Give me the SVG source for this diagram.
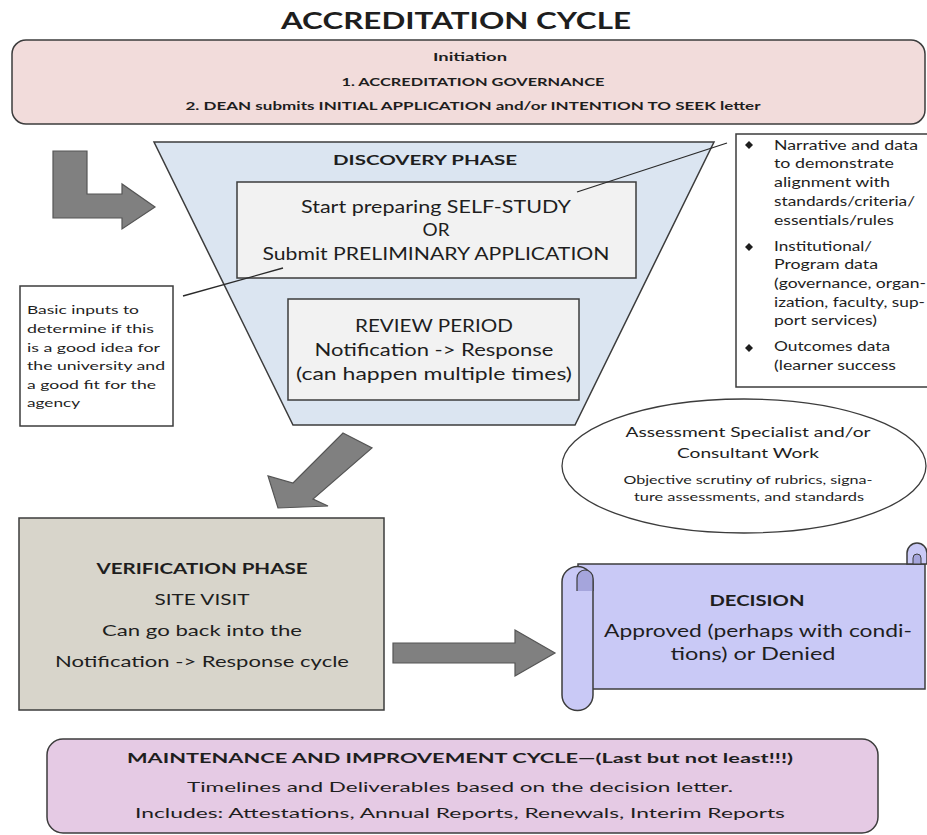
<svg xmlns="http://www.w3.org/2000/svg" width="927" height="835" viewBox="0 0 927 835">
<style>
text{font-family:Lato,"Open Sans","Liberation Sans",sans-serif;fill:#1e1e1e}
.b{font-weight:bold}
.c{text-anchor:middle}
.box{stroke:#3c3c3c;stroke-width:1.5}
.arrow{fill:#808080;stroke:#555;stroke-width:1.2}
.line{stroke:#2a2a2a;stroke-width:1.3;fill:none}
</style>
<rect width="927" height="835" fill="#fff"/>
<g id="title">
<text class="b c" x="456" y="29" font-size="23" textLength="350" lengthAdjust="spacingAndGlyphs">ACCREDITATION CYCLE</text>
</g>
<g id="initiation">
<rect class="box" x="12" y="40" width="913" height="84" rx="14" fill="#f2dcdb"/>
<text class="b c" x="470" y="61" font-size="11" textLength="74" lengthAdjust="spacingAndGlyphs">Initiation</text>
<text class="b c" x="473" y="86" font-size="11" textLength="263" lengthAdjust="spacingAndGlyphs">1. ACCREDITATION GOVERNANCE</text>
<text class="b c" x="473" y="110" font-size="11" textLength="575" lengthAdjust="spacingAndGlyphs">2. DEAN submits INITIAL APPLICATION and/or INTENTION TO SEEK letter</text>
</g>
<g id="discovery">
<polygon class="box" points="154,142 714,142 575,425 293,425" fill="#dbe5f1"/>
<text class="b c" x="425" y="165" font-size="14" textLength="184" lengthAdjust="spacingAndGlyphs">DISCOVERY PHASE</text>
</g>
<g id="selfstudy">
<rect class="box" x="237" y="182" width="399" height="96" fill="#f2f2f2"/>
<text class="c" x="436" y="213" font-size="16.5" textLength="270" lengthAdjust="spacingAndGlyphs">Start preparing SELF-STUDY</text>
<text class="c" x="436" y="236" font-size="16.5" textLength="27" lengthAdjust="spacingAndGlyphs">OR</text>
<text class="c" x="436" y="260" font-size="16.5" textLength="347" lengthAdjust="spacingAndGlyphs">Submit PRELIMINARY APPLICATION</text>
</g>
<g id="review">
<rect class="box" x="288" y="299" width="291" height="101" fill="#f2f2f2"/>
<text class="c" x="434" y="332" font-size="16.5" textLength="158" lengthAdjust="spacingAndGlyphs">REVIEW PERIOD</text>
<text class="c" x="434" y="356" font-size="16.5" textLength="239" lengthAdjust="spacingAndGlyphs">Notification -&gt; Response</text>
<text class="c" x="434" y="380" font-size="16.5" textLength="276" lengthAdjust="spacingAndGlyphs">(can happen multiple times)</text>
</g>
<g id="basic-inputs">
<rect class="box" x="20" y="286" width="153" height="140" fill="#fff"/>
<text x="27" y="314" font-size="12" textLength="112" lengthAdjust="spacingAndGlyphs">Basic inputs to</text>
<text x="27" y="333" font-size="12" textLength="127" lengthAdjust="spacingAndGlyphs">determine if this</text>
<text x="27" y="352" font-size="12" textLength="133" lengthAdjust="spacingAndGlyphs">is a good idea for</text>
<text x="27" y="370" font-size="12" textLength="138" lengthAdjust="spacingAndGlyphs">the university and</text>
<text x="27" y="389" font-size="12" textLength="129" lengthAdjust="spacingAndGlyphs">a good fit for the</text>
<text x="27" y="407" font-size="12" textLength="53" lengthAdjust="spacingAndGlyphs">agency</text>
</g>
<g id="narrative">
<rect class="box" x="736" y="134" width="200" height="253" fill="#fff"/>
<path d="M749,141 l4,4 -4,4 -4,-4z M749,243 l4,4 -4,4 -4,-4z M749,344 l4,4 -4,4 -4,-4z" fill="#1e1e1e"/>
<g font-size="12.5">
<text x="774" y="150" textLength="144" lengthAdjust="spacingAndGlyphs">Narrative and data</text>
<text x="774" y="168" textLength="120" lengthAdjust="spacingAndGlyphs">to demonstrate</text>
<text x="774" y="187" textLength="116" lengthAdjust="spacingAndGlyphs">alignment with</text>
<text x="774" y="206" textLength="141" lengthAdjust="spacingAndGlyphs">standards/criteria/</text>
<text x="774" y="225" textLength="120" lengthAdjust="spacingAndGlyphs">essentials/rules</text>
<text x="774" y="251" textLength="98" lengthAdjust="spacingAndGlyphs">Institutional/</text>
<text x="774" y="269" textLength="104" lengthAdjust="spacingAndGlyphs">Program data</text>
<text x="774" y="288" textLength="152" lengthAdjust="spacingAndGlyphs">(governance, organ-</text>
<text x="774" y="307" textLength="151" lengthAdjust="spacingAndGlyphs">ization, faculty, sup-</text>
<text x="774" y="325" textLength="103" lengthAdjust="spacingAndGlyphs">port services)</text>
<text x="774" y="351" textLength="116" lengthAdjust="spacingAndGlyphs">Outcomes data</text>
<text x="774" y="370" textLength="122" lengthAdjust="spacingAndGlyphs">(learner success</text>
</g>
</g>
<g id="assessment">
<ellipse cx="744" cy="466" rx="182" ry="67" fill="#fff" stroke="#3c3c3c" stroke-width="1.3"/>
<text class="c" x="748" y="437" font-size="13.5" textLength="245" lengthAdjust="spacingAndGlyphs">Assessment Specialist and/or</text>
<text class="c" x="748" y="458" font-size="13.5" textLength="142" lengthAdjust="spacingAndGlyphs">Consultant Work</text>
<text class="c" x="748" y="484" font-size="11" textLength="249" lengthAdjust="spacingAndGlyphs">Objective scrutiny of rubrics, signa-</text>
<text class="c" x="749" y="501" font-size="11" textLength="230" lengthAdjust="spacingAndGlyphs">ture assessments, and standards</text>
</g>
<g id="verification">
<rect class="box" x="19" y="518" width="365" height="192" fill="#d8d5cb"/>
<text class="b c" x="202" y="574" font-size="15.5" textLength="211" lengthAdjust="spacingAndGlyphs">VERIFICATION PHASE</text>
<text class="c" x="202" y="605" font-size="15" textLength="95" lengthAdjust="spacingAndGlyphs">SITE VISIT</text>
<text class="c" x="202" y="636" font-size="15" textLength="200" lengthAdjust="spacingAndGlyphs">Can go back into the</text>
<text class="c" x="202" y="667" font-size="15" textLength="294" lengthAdjust="spacingAndGlyphs">Notification -&gt; Response cycle</text>
</g>
<g id="decision">
<rect class="box" x="578" y="564" width="347" height="125" fill="#c9c9f6"/>
<path class="box" d="M907,564 V553 A10,10 0 0 1 927,553 V564 Z" fill="#c9c9f6"/>
<path d="M913,564 V558 A4,4 0 0 1 921,558 V564 Z" fill="#a5a5dc" stroke="#3c3c3c" stroke-width="1"/>
<path class="box" d="M562,582 A15.5,15.5 0 0 1 593,582 V695 A15.5,15.5 0 0 1 562,695 Z" fill="#c9c9f6"/>
<path d="M577,591 V578 A8,8 0 0 1 593,578 V591" fill="#a5a5dc" stroke="#3c3c3c" stroke-width="1.2"/>
<text class="b c" x="757" y="606" font-size="16" textLength="95" lengthAdjust="spacingAndGlyphs">DECISION</text>
<text class="c" x="758" y="637" font-size="16.5" textLength="308" lengthAdjust="spacingAndGlyphs">Approved (perhaps with condi-</text>
<text class="c" x="753" y="660" font-size="16.5" textLength="165" lengthAdjust="spacingAndGlyphs">tions) or Denied</text>
</g>
<g id="maintenance">
<rect class="box" x="47" y="739" width="831" height="94" rx="16" fill="#e5cae4"/>
<text class="b c" x="460" y="763" font-size="12.5" textLength="666" lengthAdjust="spacingAndGlyphs">MAINTENANCE AND IMPROVEMENT CYCLE—(Last but not least!!!)</text>
<text class="c" x="460" y="792" font-size="12.5" textLength="546" lengthAdjust="spacingAndGlyphs">Timelines and Deliverables based on the decision letter.</text>
<text class="c" x="460" y="818" font-size="12.5" textLength="650" lengthAdjust="spacingAndGlyphs">Includes:  Attestations, Annual Reports, Renewals, Interim Reports</text>
</g>
<g id="connectors">
<polygon class="arrow" points="53,151 87,151 87,194 122,194 122,184 155,207 122,229 122,218 53,218"/>
<polygon class="arrow" points="343,433 372,448 313,499 328,506 278,508 268,476 293,483"/>
<polygon class="arrow" points="393,643 515,643 515,630 555,653 515,676 515,663 393,663"/>
<line class="line" x1="183" y1="296" x2="283" y2="268"/>
<line class="line" x1="727" y1="143" x2="577" y2="192"/>
</g>
</svg>
